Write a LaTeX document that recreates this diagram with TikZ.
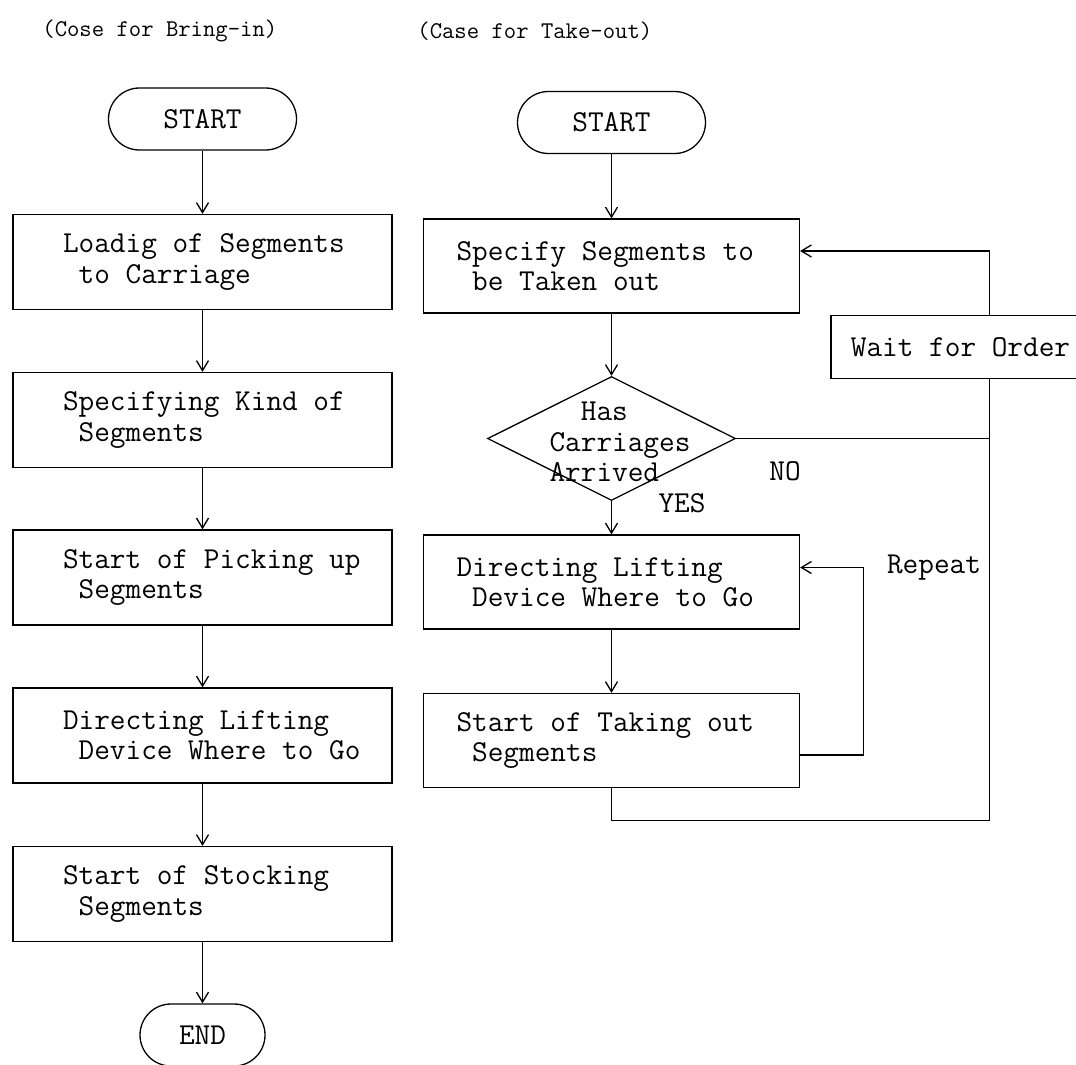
\documentclass[tikz,border=0pt]{standalone}
\usetikzlibrary{arrows.meta,shapes.geometric,calc}
\newcommand{\lline}[1]{\makebox[139.5pt][l]{\spaceskip=0pt\xspaceskip=0pt #1}}
\newcommand{\rline}[1]{\makebox[155pt][l]{\spaceskip=0pt\xspaceskip=0pt #1}}
\newcommand{\fixsp}{\fontdimen2\font=\fontcharwd\font`\a\relax\fontdimen3\font=0pt\relax\fontdimen4\font=0pt\relax}
\begin{document}
\begin{tikzpicture}[x=0.5pt,y=-0.5pt,
  txt/.style={font=\ttfamily\fontsize{15.2}{15.2}\selectfont\fixsp},
  conn/.style={line width=0.65pt},
  arr/.style={conn,-{Straight Barb[length=5pt,width=6pt,line width=0.65pt]}},
  lbox/.style={txt,draw,conn,rectangle,minimum width=189.5pt,minimum height=47.5pt,text width=139.5pt,inner xsep=25pt,align=left},
  rbox/.style={txt,draw,conn,rectangle,minimum width=188pt,minimum height=47pt,text width=155pt,inner xsep=16.5pt,align=left},
  term/.style={txt,draw,conn,rectangle,rounded corners=15.5pt,minimum height=31pt},
  title/.style={font=\ttfamily\fontsize{12}{13}\selectfont\fixsp,anchor=west,inner sep=0pt},
  lbl/.style={txt}
]
\clip (0,0) rectangle (1076,1065);
\fill[white] (0,0) rectangle (1076,1065);

% titles
\node[title] (titleL) at (42,31) {(Cose for Bring-in)};
\node[title] (titleR) at (417,31) {(Case for Take-out)};

% left column
\node[term,minimum width=94pt] (startL) at (202.5,119) {START};
\node[lbox] (b1) at (202.5,262) {\lline{Loadig of Segments}\\\lline{\ to Carriage}};
\node[lbox] (b2) at (202.5,420) {\lline{Specifying Kind of}\\\lline{\ Segments}};
\node[lbox] (b3) at (202.5,577.5) {\lline{Start of Picking up}\\\lline{\ Segments}};
\node[lbox] (b4) at (202.5,735.5) {\lline{Directing Lifting}\\\lline{\ Device Where to Go}};
\node[lbox] (b5) at (202.5,894) {\lline{Start of Stocking}\\\lline{\ Segments}};
\node[term,minimum width=62.5pt] (endL) at (202.5,1035) {END};

\draw[arr] (startL) -- (b1);
\draw[arr] (b1) -- (b2);
\draw[arr] (b2) -- (b3);
\draw[arr] (b3) -- (b4);
\draw[arr] (b4) -- (b5);
\draw[arr] (b5) -- (endL);

% right column
\node[term,minimum width=94pt] (startR) at (611.5,122.5) {START};
\node[rbox] (r1) at (611.5,266) {\rline{Specify Segments to}\\\rline{\ be Taken out}};
\node[draw,conn,diamond,minimum width=124pt,minimum height=62pt,inner sep=0pt] (dia) at (611.5,438.5) {};
\node[txt,align=left] (diat) at (620,442) {\hphantom{Ca}Has\\Carriages\\Arrived};
\node[rbox] (r2) at (611.5,582) {\rline{Directing Lifting}\\\rline{\ Device Where to Go}};
\node[rbox] (r3) at (611.5,740.5) {\rline{Start of Taking out}\\\rline{\ Segments}};
\node[txt,draw,conn,rectangle,minimum width=129.5pt,minimum height=31.5pt] (wait) at (960.5,347) {Wait for Order};

\coordinate (vx) at (989.5,0);

\draw[arr] (startR) -- (r1);
\draw[arr] (r1) -- (dia);
\draw[arr] (dia) -- (r2);
\draw[arr] (r2) -- (r3);

% repeat loop
\draw[arr] ($(r3.east)+(0,14.5)$) -| ($(r2.east)+(63,-14.5)$) -- ($(r2.east)+(0,-14.5)$);
% back to wait
\draw[conn] (r3.south) -- ++(0,32) -| (wait.south -| vx);
\draw[conn] (dia.east) -- (dia.east -| vx);
\draw[arr] (wait.north -| vx) |- ($(r1.east)+(0,-15)$);

% labels
\node[lbl] (no) at (785,471) {NO};
\node[lbl] (yes) at (682,503) {YES};
\node[lbl,anchor=west] (rep) at (880,568) {Repeat};
\end{tikzpicture}
\end{document}
